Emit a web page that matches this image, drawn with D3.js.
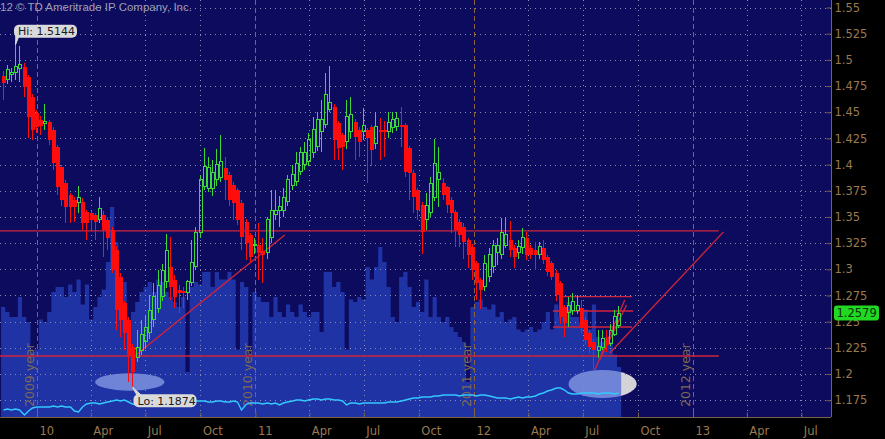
<!DOCTYPE html>
<html><head><meta charset="utf-8">
<script src="https://cdn.jsdelivr.net/npm/d3@7"></script>
<style>
html,body{margin:0;padding:0;background:#000;}
svg{display:block;}
</style></head>
<body>
<svg id="c" width="885" height="439"></svg>
<script>
// ---------------- data ----------------
const firstWeek = "2009-11-02";   // Monday of the first weekly candle
const open = [1.4846,1.4808,1.4856,1.4875,1.4913,1.4932,1.4837,1.4646,1.4493,1.4426,
1.4390,1.4407,1.4331,1.4168,1.3977,1.3824,1.3710,1.3662,1.3634,1.3643,
1.3547,1.3537,1.3518,1.3471,1.3518,1.3471,1.3375,1.3184,1.2926,1.2678,
1.2516,1.2258,1.2162,1.2229,1.2306,1.2392,1.2516,1.2630,1.2736,1.2880,
1.3022,1.2898,1.2802,1.2795,1.2783,1.2870,1.3022,1.3347,1.3786,1.3776,
1.3776,1.3853,1.3872,1.3968,1.3901,1.3805,1.3758,1.3634,1.3452,1.3328,
1.3225,1.3232,1.3170,1.3156,1.3299,1.3528,1.3566,1.3566,1.3643,1.3805,
1.3834,1.3930,1.4000,1.4025,1.4111,1.4168,1.4312,1.4379,1.4522,1.4550,
1.4398,1.4283,1.4216,1.4312,1.4407,1.4331,1.4312,1.4331,1.4360,1.4197,
1.4330,1.4330,1.4312,1.4350,1.4360,1.4379,1.4379,1.4159,1.3920,1.3757,
1.3614,1.3471,1.3547,1.3690,1.3853,1.3824,1.3786,1.3662,1.3547,1.3450,
1.3404,1.3280,1.3213,1.3060,1.2898,1.2831,1.2927,1.3022,1.3165,1.3137,
1.3232,1.3280,1.3204,1.3165,1.3204,1.3299,1.3204,1.3184,1.3137,1.3204,
1.3117,1.3060,1.2965,1.2869,1.2640,1.2583,1.2611,1.2611,1.2630,1.2516,
1.2392,1.2306,1.2220,1.2258,1.2325,1.2290,1.2380,1.2460];
const high = [1.4890,1.4955,1.4920,1.5144,1.5130,1.4970,1.4860,1.4670,1.4520,1.4460,
1.4579,1.4430,1.4360,1.4190,1.4000,1.3850,1.3730,1.3690,1.3795,1.3680,
1.3570,1.3560,1.3540,1.3690,1.3560,1.3500,1.3400,1.3220,1.2960,1.2700,
1.2540,1.2290,1.2420,1.2516,1.2560,1.2755,1.2870,1.2993,1.3050,1.3333,
1.3309,1.2950,1.2850,1.2830,1.2900,1.3280,1.3400,1.3900,1.4159,1.4073,
1.4044,1.4150,1.4282,1.4073,1.3930,1.3830,1.3780,1.3660,1.3480,1.3350,
1.3300,1.3442,1.3300,1.3500,1.3757,1.3757,1.3700,1.3780,1.3900,1.4000,
1.4120,1.4168,1.4216,1.4300,1.4455,1.4500,1.4617,1.4875,1.4940,1.4580,
1.4420,1.4300,1.4617,1.4646,1.4440,1.4360,1.4541,1.4350,1.4380,1.4502,
1.4445,1.4417,1.4502,1.4500,1.4502,1.4550,1.4400,1.4180,1.3950,1.3780,
1.3640,1.3730,1.3882,1.4247,1.4168,1.3872,1.3800,1.3690,1.3570,1.3480,
1.3440,1.3300,1.3240,1.3080,1.2920,1.3137,1.3200,1.3280,1.3299,1.3487,
1.3487,1.3460,1.3230,1.3280,1.3395,1.3357,1.3230,1.3261,1.3261,1.3280,
1.3140,1.3080,1.2990,1.2890,1.2660,1.2736,1.2774,1.2755,1.2707,1.2540,
1.2420,1.2330,1.2420,1.2420,1.2420,1.2475,1.2611,1.2650];
const low = [1.4617,1.4770,1.4790,1.4808,1.4789,1.4646,1.4254,1.4235,1.4300,1.4283,
1.4331,1.4187,1.3950,1.3710,1.3600,1.3442,1.3442,1.3450,1.3538,1.3375,
1.3280,1.3375,1.3280,1.3442,1.3117,1.3184,1.2965,1.2420,1.2353,1.2229,
1.1924,1.1874,1.2114,1.2180,1.2250,1.2330,1.2450,1.2580,1.2700,1.2820,
1.2707,1.2630,1.2583,1.2630,1.2707,1.2840,1.2990,1.3300,1.3760,1.3740,
1.3700,1.3800,1.3830,1.3662,1.3600,1.3471,1.3420,1.3184,1.3089,1.3060,
1.3150,1.2898,1.2871,1.3100,1.3250,1.3471,1.3404,1.3500,1.3600,1.3760,
1.3800,1.3900,1.3950,1.3990,1.4060,1.4130,1.4120,1.4350,1.4500,1.4044,
1.4044,1.3949,1.4150,1.4250,1.4044,1.4073,1.4230,1.3824,1.3990,1.4150,
1.4044,1.4073,1.4250,1.4300,1.4320,1.4168,1.3880,1.3662,1.3538,1.3470,
1.3146,1.3375,1.3500,1.3650,1.3595,1.3662,1.3538,1.3347,1.3213,1.3213,
1.3100,1.3013,1.2900,1.2707,1.2624,1.2790,1.2880,1.2965,1.3040,1.3100,
1.3200,1.3117,1.3013,1.3100,1.3150,1.3089,1.3100,1.2993,1.3100,1.3050,
1.2940,1.2900,1.2700,1.2480,1.2354,1.2449,1.2560,1.2570,1.2392,1.2277,
1.2201,1.2043,1.2150,1.2230,1.2210,1.2270,1.2360,1.2440];
const close = [1.4779,1.4904,1.4884,1.4932,1.4951,1.4741,1.4455,1.4331,1.4359,1.4369,
1.4407,1.4235,1.4015,1.3786,1.3662,1.3595,1.3595,1.3595,1.3681,1.3442,
1.3442,1.3471,1.3452,1.3576,1.3375,1.3299,1.2993,1.2611,1.2516,1.2391,
1.2181,1.2019,1.2258,1.2373,1.2449,1.2611,1.2736,1.2850,1.2993,1.3184,
1.2830,1.2736,1.2774,1.2774,1.2879,1.3061,1.3347,1.3853,1.3977,1.3968,
1.3920,1.3996,1.4025,1.3853,1.3662,1.3634,1.3471,1.3309,1.3251,1.3117,
1.3240,1.3156,1.3140,1.3471,1.3566,1.3566,1.3595,1.3690,1.3853,1.3901,
1.4015,1.4111,1.4120,1.4235,1.4331,1.4426,1.4426,1.4665,1.4589,1.4235,
1.4159,1.4168,1.4455,1.4474,1.4264,1.4216,1.4369,1.4254,1.4139,1.4359,
1.4312,1.4312,1.4398,1.4426,1.4436,1.4359,1.3930,1.3920,1.3690,1.3566,
1.3356,1.3614,1.3824,1.4015,1.3920,1.3710,1.3614,1.3538,1.3375,1.3330,
1.3260,1.3137,1.2993,1.2869,1.2802,1.3060,1.3137,1.3232,1.3223,1.3347,
1.3328,1.3184,1.3117,1.3213,1.3299,1.3137,1.3137,1.3137,1.3213,1.3089,
1.2975,1.2927,1.2755,1.2545,1.2487,1.2659,1.2688,1.2659,1.2440,1.2325,
1.2258,1.2229,1.2267,1.2335,1.2277,1.2420,1.2545,1.2579];
const volume = [44,42,40,40,48,40,38,26,27,39,
38,42,50,52,52,48,53,50,55,45,
53,39,44,48,51,62,84,70,54,54,
38,42,46,50,52,54,50,55,54,50,
48,46,44,48,18,52,54,53,58,58,
52,58,55,55,58,55,27,54,52,24,
50,48,46,46,40,48,42,40,45,42,
40,45,42,40,42,42,34,58,58,52,
54,50,27,47,46,48,47,60,55,60,
68,62,52,40,38,56,58,52,44,46,
42,55,40,48,40,38,40,36,34,32,
30,14,44,46,47,44,43,45,40,42,
38,39,40,35,34,35,36,34,35,38,
42,35,45,40,44,46,40,40,38,43,
35,45,32,30,32,30,25,20];
const indicator = [7,8,7,8,7,2,6,9,10,10,
10,10,11,10,11,10,10,6,5,10,
13,14,14,13,14,15,16,17,16,17,
15,13,12,12,13,14,14,13,14,14,
13,14,15,15,16,16,16,16,16,15,
15,16,16,15,15,16,15,7,13,14,
14,14,13,14,13,14,12,14,15,16,
17,17,16,17,18,18,17,18,18,17,
17,16,12,14,14,13,14,14,14,14,
14,14,15,15,15,16,17,18,19,19,
20,20,20,21,21,22,22,22,22,21,
22,22,22,21,22,22,21,20,19,19,
19,18,19,20,19,20,20,21,23,24,
26,27,29,29,27,24,23,23,24,24,
24,24,23,24,24,24,23,24];
const priceTicks = [1.175,1.2,1.225,1.25,1.275,1.3,1.325,1.35,1.375,1.4,1.425,1.45,1.475,1.5,1.525,1.55];
const yearLabels = ["2009 year","2010 year","2011 year","2012 year"];
const yearLines = ["2010-01-01","2011-01-01","2012-01-01","2013-01-01"];
// trend lines drawn on the chart (date/price endpoints)
const lineFrom  = ["2009-10-30","2009-10-30","2010-06-09","2012-05-29","2012-05-12","2012-05-12","2012-07-21","2012-07-29","2012-08-15"];
const lineFromP = [1.3366,1.2172,1.2153,1.2740,1.2602,1.2449,1.2039,1.2134,1.2201];
const lineTo    = ["2013-02-13","2013-02-13","2011-02-19","2012-09-21","2012-09-23","2012-09-21","2012-09-09","2012-09-12","2013-02-21"];
const lineToP   = [1.3366,1.2172,1.3328,1.2740,1.2602,1.2449,1.2707,1.2659,1.3357];
// highlight ellipses
const ellDate = ["2010-06-05","2012-08-03"];
const ellPrice = [1.1924,1.1905];
const ellHalfDays = [58,57];
const ellHalfPrice = [0.0083,0.0134];
const hiText = "Hi: 1.5144", loText = "Lo: 1.1874", lastText = "1.2579";
const copyright = "12 \u00A9 TD Ameritrade IP Company, Inc.";

// ---------------- scales ----------------
const parse = d3.timeParse("%Y-%m-%d");
const PR = 831, PB = 417;
const x = d3.scaleTime().domain([parse("2010-01-01"), parse("2013-01-01")]).range([37, 693]);
x.domain([x.invert(0), x.invert(PR)]).range([0, PR]);
const y = d3.scaleLinear().domain([1.175, 1.55]).range([400.2, 7.5]);
const yv = d3.scaleLinear().domain([0, 100]).range([PB, 167]);
const yi = d3.scaleLinear().domain([0, 40]).range([PB, 377]);

const start = parse(firstWeek);
const candles = open.map((o, i) => {
  const d = d3.timeDay.offset(start, 7 * i);
  return {i, d, o, h: high[i], l: low[i], c: close[i], v: volume[i], ind: indicator[i],
          xc: Math.round(x(d3.timeHour.offset(d, 60))) + 0.5,
          x0: x(d), x1: x(d3.timeDay.offset(d, 7))};
});

const svg = d3.select("#c");
svg.append("rect").attr("width", 885).attr("height", 439).attr("fill", "#000");
svg.append("rect").attr("width", PR).attr("height", PB).attr("fill", "#0d0b5e");

// ellipses (beneath volume)
ellDate.forEach((ds, k) => {
  const d = parse(ds);
  const cx = x(d), cy = y(ellPrice[k]);
  svg.append("ellipse").attr("cx", cx).attr("cy", cy)
    .attr("rx", x(d3.timeDay.offset(d, ellHalfDays[k])) - cx)
    .attr("ry", y(ellPrice[k] - ellHalfPrice[k]) - cy)
    .attr("fill", "#d4d4d8");
});

// volume as a weekly step area
const volPts = candles.map(d => ({xx: d.x0, v: d.v}));
volPts.push({xx: candles[candles.length - 1].x1, v: volume[volume.length - 1]});
svg.append("path").datum(volPts)
  .attr("d", d3.area().curve(d3.curveStepAfter).x(d => d.xx).y0(PB).y1(d => yv(d.v)))
  .attr("fill", "rgb(44,79,214)").attr("fill-opacity", 0.6);

// grid
const grid = svg.append("g");
priceTicks.forEach(p => {
  const yy = Math.round(y(p)) + 0.5;
  grid.append("line").attr("x1", 0).attr("x2", PR).attr("y1", yy).attr("y2", yy)
    .attr("stroke", "#8c8cae").attr("stroke-dasharray", "1,4");
});
const quarters = d3.timeMonth.every(3).range(x.domain()[0], x.domain()[1]);
quarters.forEach(q => {
  const xx = Math.round(x(q)) + 0.5;
  const isYear = q.getMonth() === 0;
  grid.append("line").attr("x1", xx).attr("x2", xx).attr("y1", 0).attr("y2", PB)
    .attr("stroke", isYear ? "#8a643e" : "#8c8cae")
    .attr("stroke-dasharray", isYear ? "5,3" : "1,4");
});

// year labels
yearLines.forEach((ds, k) => {
  const xx = x(parse(ds)) - 3;
  svg.append("text").attr("transform", `translate(${xx},407) rotate(-90)`)
    .attr("font-family", "DejaVu Sans").attr("font-size", 12.5)
    .attr("fill", "#7d6a55").text(yearLabels[k]);
});

// indicator line
svg.append("path").datum(candles)
  .attr("d", d3.line().x(d => d.xc).y(d => yi(d.ind)))
  .attr("fill", "none").attr("stroke", "#33c8ff").attr("stroke-width", 1.4);

// trend lines
lineFrom.forEach((f, k) => {
  svg.append("line")
    .attr("x1", x(parse(f))).attr("y1", y(lineFromP[k]))
    .attr("x2", x(parse(lineTo[k]))).attr("y2", y(lineToP[k]))
    .attr("stroke", "#d0243a").attr("stroke-width", 1.3);
});

// candles
const cg = svg.append("g").attr("shape-rendering", "crispEdges");
candles.forEach(d => {
  const up = d.c > d.o;
  const col = up ? "#3bd83b" : "#ff0c0c";
  if (up) {
    cg.append("line").attr("x1", d.xc).attr("x2", d.xc).attr("y1", y(d.h)).attr("y2", y(d.c)).attr("stroke", col);
    cg.append("line").attr("x1", d.xc).attr("x2", d.xc).attr("y1", y(d.o)).attr("y2", y(d.l)).attr("stroke", col);
    cg.append("rect").attr("x", d.xc - 1.5).attr("y", y(d.c))
      .attr("width", 3).attr("height", Math.max(1, y(d.o) - y(d.c)))
      .attr("fill", "none").attr("stroke", col);
  } else {
    cg.append("line").attr("x1", d.xc).attr("x2", d.xc).attr("y1", y(d.h)).attr("y2", y(d.l)).attr("stroke", col);
    cg.append("rect").attr("x", d.xc - 2).attr("y", y(d.o))
      .attr("width", 4).attr("height", Math.max(1.5, y(d.c) - y(d.o)))
      .attr("fill", col);
  }
});

// Hi / Lo callouts
const hiIdx = high.indexOf(d3.max(high)), loIdx = low.indexOf(d3.min(low));
const hc = candles[hiIdx], lc = candles[loIdx];
{
  const g = svg.append("g");
  const bx = hc.xc - 1.5, by = y(hc.h) - 20;
  g.append("path").attr("d", `M${hc.xc},${y(hc.h)} L${bx + 2},${by + 6} L${bx + 7},${by + 6} Z`)
    .attr("fill", "#d8d8d8").attr("stroke", "#d8d8d8");
  g.append("rect").attr("x", bx).attr("y", by).attr("width", 63).attr("height", 13).attr("rx", 5).attr("fill", "#dadada");
  g.append("text").attr("x", bx + 4).attr("y", by + 10.5)
    .attr("font-family", "DejaVu Sans").attr("font-size", 11).attr("fill", "#1a1a1a").text(hiText);
}
{
  const g = svg.append("g");
  const bx = lc.xc + 1, by = y(lc.l) + 7;
  g.append("path").attr("d", `M${lc.xc},${y(lc.l)} L${bx + 4},${by + 2} L${bx + 9},${by + 2} Z`)
    .attr("fill", "#d8d8d8").attr("stroke", "#d8d8d8");
  g.append("rect").attr("x", bx).attr("y", by).attr("width", 63).attr("height", 13).attr("rx", 5).attr("fill", "#dadada");
  g.append("text").attr("x", bx + 4).attr("y", by + 10.5)
    .attr("font-family", "DejaVu Sans").attr("font-size", 11).attr("fill", "#1a1a1a").text(loText);
}

// axes
const axisColor = "#7a6446", labelColor = "#9a7a50";
const yAxis = svg.append("g").attr("transform", `translate(${PR + 0.5},0)`)
  .call(d3.axisRight(y).tickValues(priceTicks).tickSizeInner(-5).tickSizeOuter(0).tickPadding(3)
    .tickFormat(d => String(+d.toFixed(3))));
yAxis.select(".domain").attr("d", `M0,0V${PB}`).attr("stroke", axisColor);
yAxis.selectAll(".tick line").attr("stroke", axisColor);
yAxis.selectAll("text").attr("fill", labelColor).attr("font-family", "DejaVu Sans").attr("font-size", 11.5);

const xAxis = svg.append("g").attr("transform", `translate(0,${PB + 0.5})`)
  .call(d3.axisBottom(x).tickValues(quarters).tickSizeInner(-5).tickSizeOuter(0).tickPadding(9)
    .tickFormat(d => d.getMonth() === 0 ? d3.timeFormat("%y")(d) : d3.timeFormat("%b")(d)));
xAxis.select(".domain").attr("d", `M0,0H${PR}`).attr("stroke", axisColor);
xAxis.selectAll(".tick line").attr("stroke", axisColor);
xAxis.selectAll("text").attr("fill", labelColor).attr("font-family", "DejaVu Sans").attr("font-size", 11.5)
  .attr("text-anchor", "start").attr("dx", 2);

// last price marker
const lastY = y(close[close.length - 1]);
svg.append("rect").attr("x", 834).attr("y", lastY - 8).attr("width", 45).attr("height", 15).attr("rx", 3)
  .attr("fill", "#22d822");
svg.append("text").attr("x", 836.5).attr("y", lastY + 4)
  .attr("font-family", "DejaVu Sans").attr("font-size", 11.5).attr("fill", "#063306").text(lastText);

// copyright
svg.append("text").attr("x", 0).attr("y", 11)
  .attr("font-family", "Liberation Sans").attr("font-size", 11.5).attr("fill", "#9c9cb4")
  .text(copyright);
</script>
</body></html>
